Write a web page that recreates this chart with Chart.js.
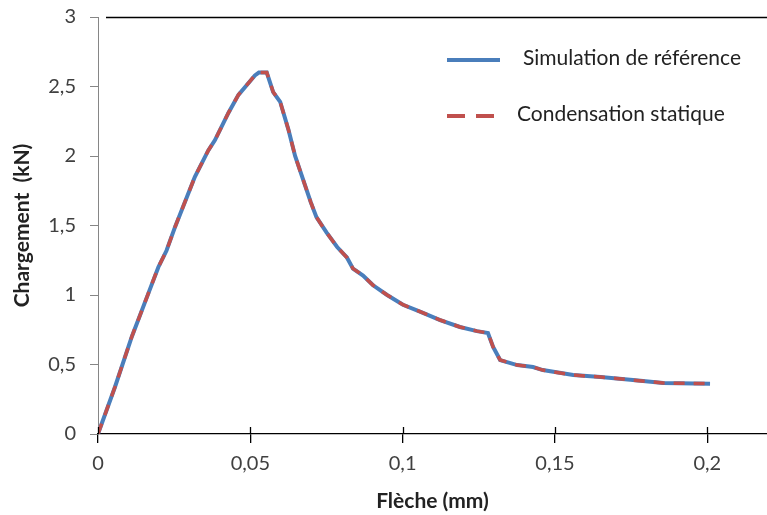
<!DOCTYPE html>
<html><head><meta charset="utf-8">
<script src="https://cdn.jsdelivr.net/npm/chart.js@4"></script>
<style>html,body{margin:0;padding:0;background:#fff}#wrap{width:767px;height:515px;position:relative}</style>
</head><body><div id="wrap"><canvas id="c"></canvas></div>
<script>
const seriesLabels = ['Simulation de référence', 'Condensation statique'];
const flecheRef = [0, 0.0056, 0.0111, 0.0165, 0.0198, 0.0225, 0.0253, 0.0318, 0.0362, 0.0384, 0.0428, 0.0461, 0.0515, 0.0528, 0.0554, 0.0575, 0.0598, 0.0625, 0.0647, 0.0698, 0.0717, 0.075, 0.0785, 0.0817, 0.0837, 0.087, 0.0903, 0.0949, 0.1001, 0.1057, 0.1123, 0.1188, 0.1244, 0.128, 0.1297, 0.132, 0.1376, 0.1428, 0.146, 0.156, 0.165, 0.1756, 0.1855, 0.2009];
const chargeRef = [0, 0.34, 0.70, 1.01, 1.20, 1.32, 1.49, 1.85, 2.04, 2.115, 2.31, 2.44, 2.58, 2.6, 2.6, 2.46, 2.39, 2.19, 2.0, 1.67, 1.56, 1.45, 1.345, 1.27, 1.19, 1.14, 1.07, 1.0, 0.93, 0.88, 0.82, 0.77, 0.74, 0.727, 0.626, 0.532, 0.496, 0.482, 0.46, 0.424, 0.41, 0.388, 0.367, 0.362];
const flecheCond = [0, 0.0056, 0.0111, 0.0165, 0.0198, 0.0225, 0.0253, 0.0318, 0.0362, 0.0384, 0.0428, 0.0461, 0.0515, 0.0528, 0.0554, 0.0575, 0.0598, 0.0625, 0.0647, 0.0698, 0.0717, 0.075, 0.0785, 0.0817, 0.0837, 0.087, 0.0903, 0.0949, 0.1001, 0.1057, 0.1123, 0.1188, 0.1244, 0.128, 0.1297, 0.132, 0.1376, 0.1428, 0.146, 0.156, 0.165, 0.1756, 0.1855, 0.2009];
const chargeCond = [0, 0.34, 0.70, 1.01, 1.20, 1.32, 1.49, 1.85, 2.04, 2.115, 2.31, 2.44, 2.58, 2.6, 2.6, 2.46, 2.39, 2.19, 2.0, 1.67, 1.56, 1.45, 1.345, 1.27, 1.19, 1.14, 1.07, 1.0, 0.93, 0.88, 0.82, 0.77, 0.74, 0.727, 0.626, 0.532, 0.496, 0.482, 0.46, 0.424, 0.41, 0.388, 0.367, 0.362];
const xTicks = [0, 0.05, 0.1, 0.15, 0.2];
const yTicks = [0, 0.5, 1, 1.5, 2, 2.5, 3];
const xTitle = 'Flèche (mm)';
const yTitle = 'Chargement  (kN)';

const FONT = 'Lato, "Open Sans", sans-serif';
const fmt = v => String(+(+v).toFixed(3)).replace('.', ',');
const pts = (xs, ys) => xs.map((x, i) => ({x, y: ys[i]}));

const decor = {
  id: 'decor',
  afterDraw(chart) {
    const ctx = chart.ctx, a = chart.chartArea, xs = chart.scales.x;
    ctx.save();
    ctx.strokeStyle = '#000'; ctx.lineWidth = 1.3;
    ctx.beginPath(); ctx.moveTo(a.left + 8, a.top + 0.5); ctx.lineTo(a.right, a.top + 0.5); ctx.stroke();
    xTicks.forEach(v => {
      const px = Math.round(xs.getPixelForValue(v)) + 0.5;
      ctx.beginPath(); ctx.moveTo(px, a.bottom); ctx.lineTo(px, a.bottom - 7); ctx.stroke();
    });
    const ds = chart.data.datasets;
    const items = [{y: 60, tx: 523}, {y: 116, tx: 517}];
    ctx.font = '21px ' + FONT; ctx.fillStyle = '#222'; ctx.textBaseline = 'middle'; ctx.textAlign = 'left';
    ds.forEach((d, i) => {
      const it = items[i];
      ctx.strokeStyle = d.borderColor; ctx.lineWidth = 4;
      ctx.setLineDash(i === 1 ? [18, 11] : []);
      ctx.beginPath(); ctx.moveTo(a.left + 349, it.y); ctx.lineTo(a.left + 402, it.y); ctx.stroke();
      ctx.setLineDash([]);
      ctx.fillText(d.label, it.tx, it.y - 2);
    });
    ctx.restore();
  }
};

new Chart(document.getElementById('c'), {
  type: 'line',
  data: {
    datasets: [
      {label: seriesLabels[0], data: pts(flecheRef, chargeRef), borderColor: '#4A7EBB', borderWidth: 4, pointRadius: 0, tension: 0, fill: false, order: 2},
      {label: seriesLabels[1], data: pts(flecheCond, chargeCond), borderColor: '#C0504D', borderWidth: 3.5, borderDash: [11, 9], pointRadius: 0, tension: 0, fill: false, order: 1}
    ]
  },
  options: {
    responsive: true, maintainAspectRatio: false, animation: false,
    layout: {padding: {top: 17, right: 0, left: 0, bottom: 0}},
    plugins: {legend: {display: false}, tooltip: {enabled: false}},
    scales: {
      x: {
        type: 'linear', min: 0, max: 0.2196,
        afterBuildTicks: s => { s.ticks = xTicks.map(v => ({value: v})); },
        afterFit: s => { s.height = 81; s.paddingLeft = 0; s.paddingRight = 0; },
        grid: {drawOnChartArea: false, drawTicks: true, tickLength: 9, color: '#000', lineWidth: 1.3},
        border: {color: '#000', width: 1.3},
        ticks: {padding: 9, color: '#404040', font: {family: FONT, size: 20}, callback: v => fmt(v), maxRotation: 0, autoSkip: false},
        title: {display: true, text: xTitle, color: '#222', font: {family: FONT, size: 21, weight: 'bold'}, padding: {top: 0, bottom: 1}}
      },
      y: {
        type: 'linear', min: 0, max: 3,
        afterBuildTicks: s => { s.ticks = yTicks.map(v => ({value: v})); },
        afterFit: s => { s.width = 98; s.paddingTop = 0; s.paddingBottom = 0; },
        grid: {drawOnChartArea: false, drawTicks: true, tickLength: 8, color: '#868686', lineWidth: 1},
        border: {color: '#868686', width: 1},
        ticks: {padding: 14, color: '#404040', font: {family: FONT, size: 20}, callback: v => fmt(v), autoSkip: false},
        title: {display: true, text: yTitle, color: '#222', font: {family: FONT, size: 21, weight: 'bold'}, padding: {top: 10, bottom: 0}}
      }
    }
  },
  plugins: [decor]
});
</script></body></html>
